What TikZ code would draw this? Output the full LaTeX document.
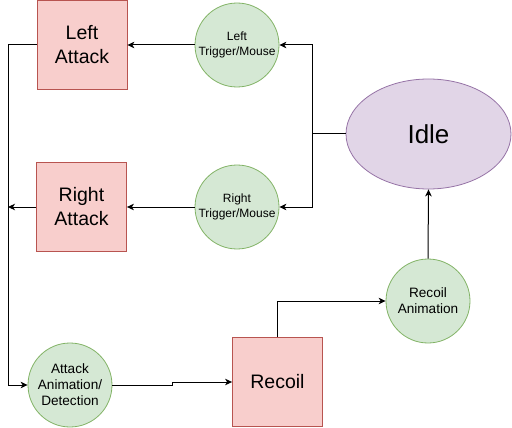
\documentclass[tikz,border=0pt]{standalone}
\usepackage{fontspec}
\setmainfont{Liberation Sans}
\usetikzlibrary{arrows.meta, positioning, shapes.geometric}
\definecolor{boxfill}{HTML}{F8CECC}
\definecolor{boxline}{HTML}{B85450}
\definecolor{evfill}{HTML}{D5E8D4}
\definecolor{evline}{HTML}{82B366}
\definecolor{idlefill}{HTML}{E1D5E7}
\definecolor{idleline}{HTML}{9673A6}

\begin{document}
\begin{tikzpicture}[x=1pt, y=-1pt,
  statebox/.style={draw=boxline, fill=boxfill, rectangle, minimum width=90pt,
                   minimum height=89pt, align=center, line width=0.8pt,
                   font=\fontsize{19.5}{24}\selectfont},
  event/.style={draw=evline, fill=evfill, circle, minimum size=84pt, inner sep=0pt,
                align=center, line width=0.8pt},
  >={Stealth[length=7pt, width=6.5pt, inset=2pt]}
]
\useasboundingbox (0,0) rectangle (512,428);

\node[statebox] (leftatk)  at (82,45)    {Left\\Attack};
\node[statebox] (rightatk) at (81.5,207) {Right\\Attack};
\node[statebox] (recoil)   at (277.5,382) {Recoil};

\node[event, font=\fontsize{12}{14.5}\selectfont]   (lefttrig)  at (237,45)  {Left\\Trigger/Mouse};
\node[event, font=\fontsize{12}{14.5}\selectfont]   (righttrig) at (237,207) {Right\\Trigger/Mouse};
\node[event, font=\fontsize{13.6}{16}\selectfont]   (atkanim)   at (70,385)  {Attack\\Animation/\\Detection};
\node[event, font=\fontsize{13.6}{16}\selectfont]   (recanim)   at (428,301) {Recoil\\Animation};

\node[draw=idleline, fill=idlefill, ellipse, minimum width=165pt, minimum height=110pt,
      line width=0.8pt, font=\fontsize{26}{30}\selectfont] (idle) at (428.5,134) {Idle};

\coordinate (split) at (312,134);
\coordinate (bus) at (8,207);

% idle -> inputs
\draw[line width=1pt] (idle.west) -- (split);
\draw[->, line width=1pt] (split) |- (lefttrig.east);
\draw[->, line width=1pt] (split) |- (righttrig.east);

% inputs -> attacks
\draw[->, line width=1pt] (lefttrig) -- (leftatk);
\draw[->, line width=1pt] (righttrig) -- (rightatk);

% attacks -> animation
\draw[->, line width=1pt] (rightatk.west) -- (bus);
\draw[->, line width=1pt] (leftatk.west) -- (leftatk.west -| bus) |- (atkanim.west);

% animation -> recoil -> idle
\draw[->, line width=1pt] (atkanim.east) -- ++(60,0) |- (recoil.west);
\draw[->, line width=1pt] (recoil.north) |- (recanim.west);
\draw[->, line width=1pt] (recanim.north) -- (idle.south);
\end{tikzpicture}
\end{document}
